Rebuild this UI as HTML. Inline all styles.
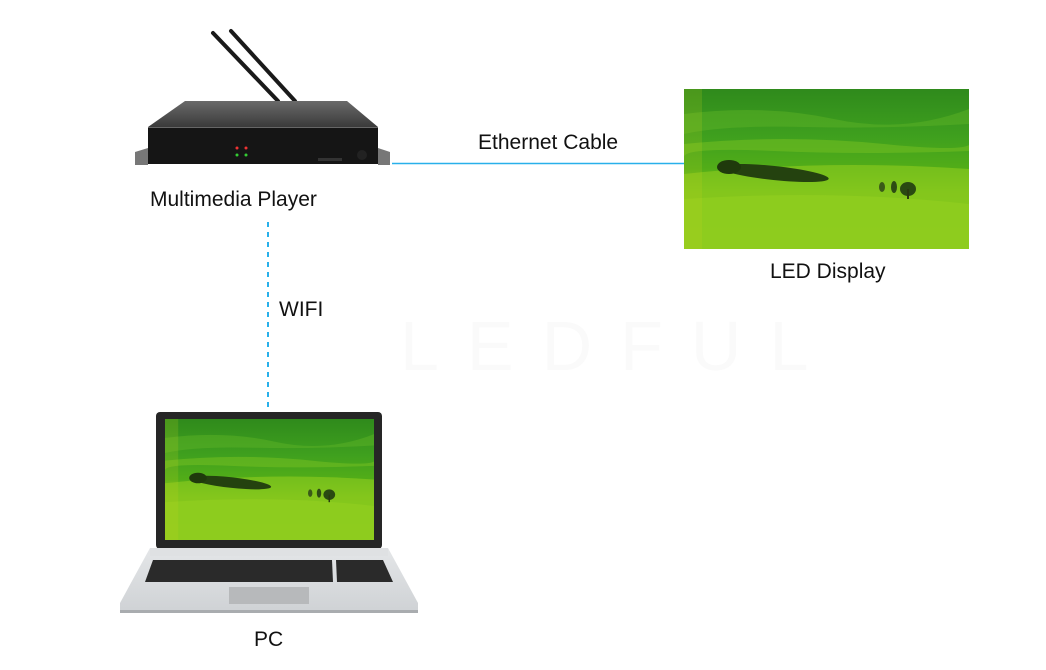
<!DOCTYPE html>
<html><head><meta charset="utf-8"><style>
html,body{margin:0;padding:0;background:#fff;}
body{width:1046px;height:670px;position:relative;overflow:hidden;font-family:"Liberation Sans",Arial,sans-serif;}
.t{position:absolute;font-size:21px;line-height:24px;color:#111;white-space:nowrap;}
svg{position:absolute;left:0;top:0;}
</style></head><body>
<svg width="1046" height="670" viewBox="0 0 1046 670">
<defs>
<linearGradient id="sky" x1="0" y1="0" x2="0" y2="1">
<stop offset="0" stop-color="#2f8a1c"/><stop offset="0.3" stop-color="#3fa01e"/><stop offset="0.5" stop-color="#52ad18"/><stop offset="0.65" stop-color="#7fc41a"/><stop offset="1" stop-color="#8ecc1c"/>
</linearGradient>
<symbol id="land" viewBox="0 0 285 160" preserveAspectRatio="none">
<rect width="285" height="160" fill="url(#sky)"/>
<path d="M0 25 Q80 15 150 30 T285 20 L285 35 Q200 40 120 38 T0 45Z" fill="#5cb226" opacity="0.5"/>
<path d="M0 55 Q100 45 200 55 T285 50 L285 62 Q180 66 90 62 T0 68Z" fill="#6fbd22" opacity="0.6"/>
<path d="M0 85 Q140 70 285 80 L285 160 L0 160Z" fill="#86c71e" opacity="0.7"/>
<path d="M0 110 Q150 100 285 115 L285 160 L0 160Z" fill="#93cf20" opacity="0.6"/>
<ellipse cx="90" cy="84" rx="55" ry="7" fill="#24420f" transform="rotate(6 90 84)"/>
<ellipse cx="45" cy="78" rx="12" ry="7" fill="#1f3a0c"/>
<ellipse cx="224" cy="100" rx="8" ry="7" fill="#2a4a12"/>
<rect x="223" y="100" width="2" height="10" fill="#2a3a10"/>
<ellipse cx="210" cy="98" rx="3" ry="6" fill="#2d4c14"/>
<ellipse cx="198" cy="98" rx="3" ry="5" fill="#3a5a18"/>
<rect x="0" y="0" width="18" height="160" fill="#c8d020" opacity="0.18"/>
</symbol>
<linearGradient id="topf" x1="0" y1="0" x2="0" y2="1"><stop offset="0" stop-color="#6a6a6a"/><stop offset="1" stop-color="#3a3a3a"/></linearGradient>
<linearGradient id="base" x1="0" y1="0" x2="0" y2="1"><stop offset="0" stop-color="#e4e6e8"/><stop offset="1" stop-color="#cfd2d5"/></linearGradient>
</defs>

<text x="400" y="370" font-family="Liberation Sans" font-size="70" fill="#fafafa" letter-spacing="28">LEDFUL</text>

<line x1="392" y1="163.5" x2="684" y2="163.5" stroke="#29b0ea" stroke-width="1.6"/>
<line x1="268" y1="222" x2="268" y2="412" stroke="#29b0ea" stroke-width="2" stroke-dasharray="5 5"/>

<line x1="213" y1="33" x2="278" y2="101" stroke="#1a1a1a" stroke-width="4" stroke-linecap="round"/>
<line x1="231" y1="31" x2="295" y2="101" stroke="#1a1a1a" stroke-width="4" stroke-linecap="round"/>
<path d="M135 152 L148 148 L148 165 L135 165Z" fill="#777"/>
<path d="M390 152 L378 148 L378 165 L390 165Z" fill="#777"/>
<path d="M185 101 L347 101 L378 127 L148 127Z" fill="url(#topf)"/>
<rect x="148" y="127" width="230" height="37" fill="#151515"/>
<line x1="148" y1="127.5" x2="378" y2="127.5" stroke="#666" stroke-width="1"/>
<circle cx="237" cy="148" r="1.5" fill="#e33"/><circle cx="246" cy="148" r="1.5" fill="#e33"/>
<circle cx="237" cy="155" r="1.5" fill="#3c3"/><circle cx="246" cy="155" r="1.5" fill="#3c3"/>
<rect x="318" y="158" width="24" height="3" fill="#333"/>
<circle cx="362" cy="155" r="5" fill="#222"/>

<use href="#land" x="684" y="89" width="285" height="160"/>

<rect x="156" y="412" width="226" height="137" rx="4" fill="#262626"/>
<use href="#land" x="165" y="419" width="209" height="121"/>
<path d="M150 548 L388 548 L418 603 L418 612 L120 612 L120 603Z" fill="url(#base)"/>
<rect x="150" y="548" width="238" height="8" fill="#dfe1e3"/>
<path d="M153 560 L332 560 L333 582 L145 582Z" fill="#2a2a2a"/>
<path d="M336 560 L383 560 L393 582 L337 582Z" fill="#2a2a2a"/>
<rect x="229" y="587" width="80" height="17" fill="#b7b9bb"/>
<rect x="120" y="610" width="298" height="3" fill="#a9acaf"/>
</svg>
<div class="t" style="left:150px;top:188px;">Multimedia Player</div>
<div class="t" style="left:478px;top:131px;">Ethernet Cable</div>
<div class="t" style="left:770px;top:260px;">LED Display</div>
<div class="t" style="left:279px;top:298px;">WIFI</div>
<div class="t" style="left:254px;top:628px;">PC</div>
</body></html>
